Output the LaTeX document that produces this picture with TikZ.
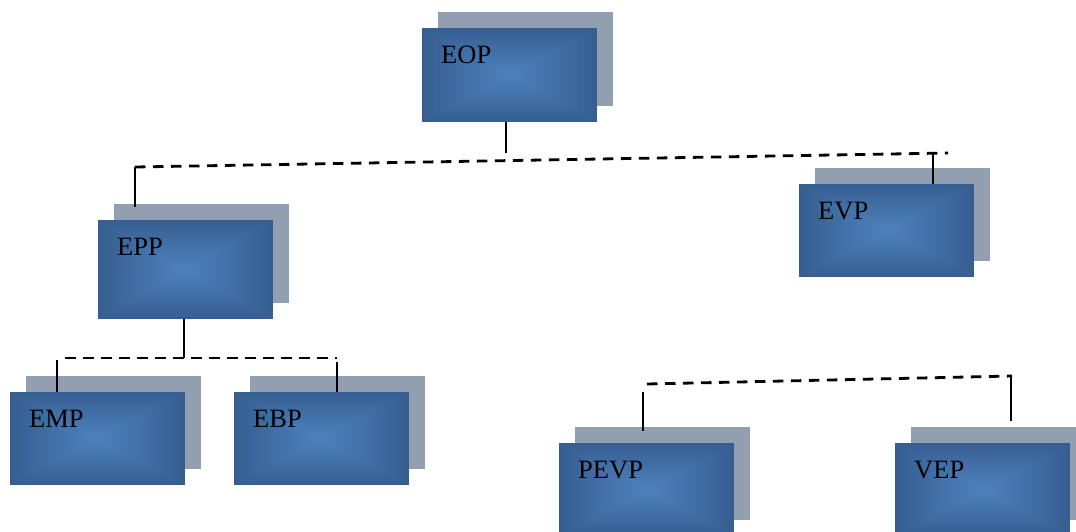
\documentclass[tikz,border=0pt]{standalone}
\usepackage{fontspec}
\setmainfont{Liberation Serif}
\usetikzlibrary{calc}
\definecolor{boxdark}{HTML}{365E91}
\definecolor{boxlight}{HTML}{4C7EBA}
\definecolor{shadowgray}{HTML}{929FB0}
\tikzset{
  boxfill/.style={path picture={
    \foreach \i in {0,...,30}{
      \pgfmathsetmacro\tt{0.9*\i/30}
      \pgfmathtruncatemacro\pp{100*\i/30}
      \fill[boxlight!\pp!boxdark]
        ($(path picture bounding box.south west)!\tt!(path picture bounding box.center)$)
        rectangle
        ($(path picture bounding box.north east)!\tt!(path picture bounding box.center)$);
    }}},
  frontbox/.style={minimum width=175pt, inner sep=0pt, outer sep=0pt, fill=boxdark, boxfill},
  shadowbox/.style={minimum width=175pt, inner sep=0pt, outer sep=0pt, fill=shadowgray},
  lbl/.style={anchor=base west, inner sep=0pt, font=\fontsize{26.5}{30}\selectfont, text=black},
  dashline/.style={line width=2.8pt, dash pattern=on 10.5pt off 7.5pt},
  vline/.style={line width=2.4pt},
}
\newcommand\orgbox[5]{%
  \node[shadowbox, minimum height=#4pt] (#1-s) at (#2+16,#3-16) {};
  \node[frontbox, minimum height=#4pt] (#1) at (#2,#3) {};
  \node[lbl] (#1-t) at ($(#1.north west)+(19,35)$) {#5};
}
\begin{document}
\begin{tikzpicture}[x=1pt,y=-1pt]
\useasboundingbox (0,0) rectangle (1076,531);
\clip (0,0) rectangle (1076,531);
\orgbox{eop}{509.5}{75}{94}{EOP}
\orgbox{epp}{185.5}{269.5}{99}{EPP}
\orgbox{evp}{886.5}{230.5}{93}{EVP}
\orgbox{emp}{97.5}{438.5}{93}{EMP}
\orgbox{ebp}{321.5}{438.5}{93}{EBP}
\orgbox{pevp}{646.5}{489.5}{93}{PEVP}
\orgbox{vep}{982.5}{489.5}{93}{VEP}
% level 1
\coordinate (d1l) at (135,167);
\coordinate (d1r) at (948,153);
\coordinate (d1m) at (506,153);
\coordinate (d1rv) at (933,153);
\coordinate (v1l) at (135,207);
\draw[dashline] (d1l) -- (d1r);
\draw[vline] (d1m |- eop.south) -- (d1m);
\draw[vline] (d1l) -- (v1l);
\draw[vline] (d1rv) -- (d1rv |- evp.north);
% level 2 left
\coordinate (d2m) at (184,358);
\coordinate (d2l) at (65,358);
\coordinate (d2r) at (337,358);
\coordinate (v2l) at (57,360);
\coordinate (v2r) at (337,362);
\draw[vline] (d2m |- epp.south) -- (d2m);
\draw[dashline] (d2l) -- (d2r);
\draw[vline] (v2l) -- (v2l |- emp.north);
\draw[vline] (v2r) -- (v2r |- ebp.north);
% level 2 right
\coordinate (d3l) at (647,384);
\coordinate (d3r) at (1012,376);
\coordinate (v3l) at (643,392);
\coordinate (v3le) at (643,431);
\coordinate (v3r) at (1011,376);
\coordinate (v3re) at (1011,421);
\draw[dashline] (d3l) -- (d3r);
\draw[vline] (v3l) -- (v3le);
\draw[vline] (v3r) -- (v3re);
\end{tikzpicture}
\end{document}
